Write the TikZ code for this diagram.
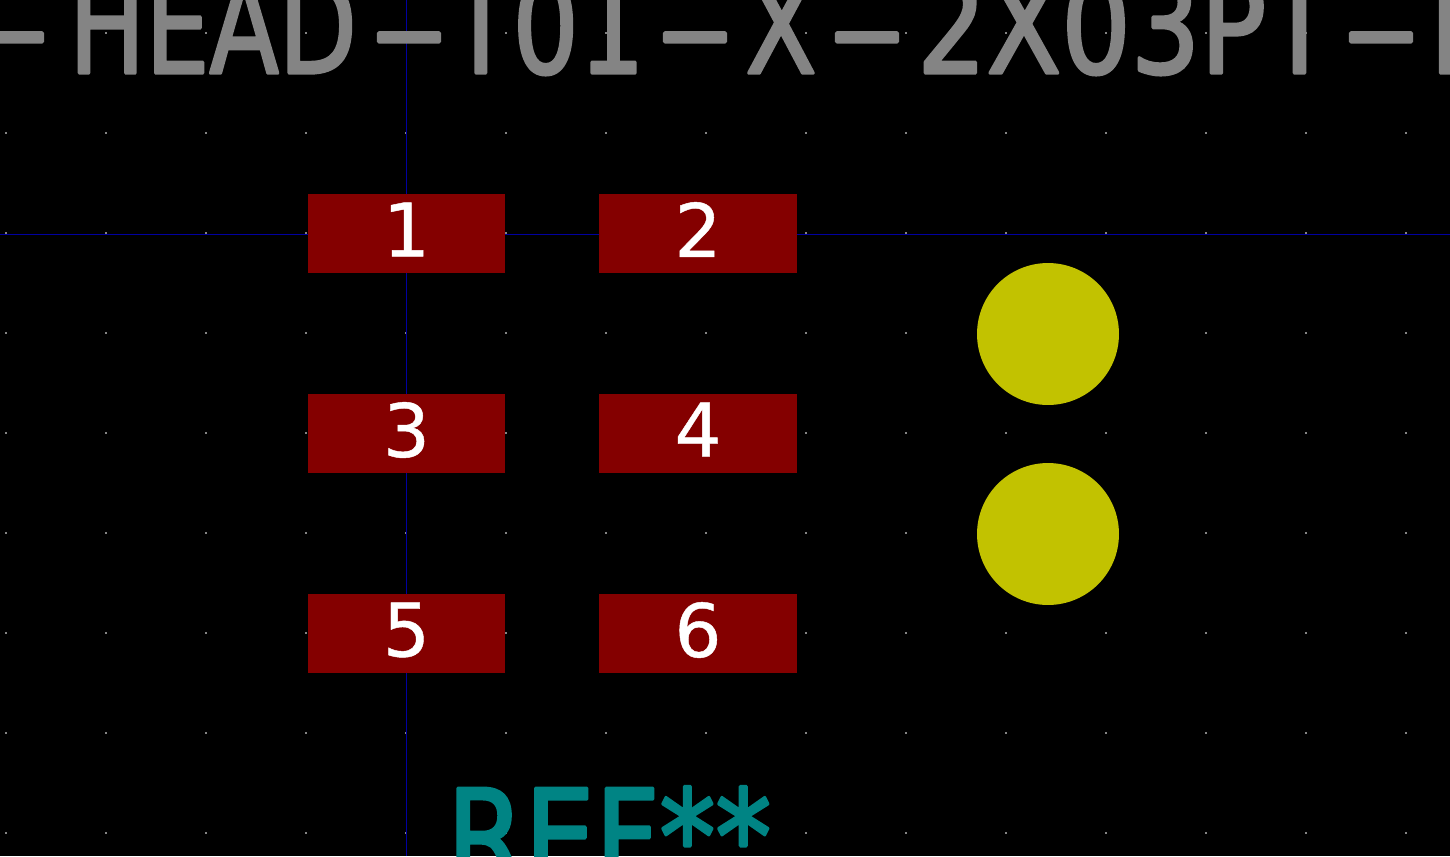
\documentclass[tikz,border=0pt]{standalone}
\usepackage{fontspec}
\usepackage{xcolor}
\setmainfont{DejaVu Sans}
\newfontfamily\padfont[FakeBold=0.6]{DejaVu Sans}
\newfontfamily\silkfont[FakeBold=2.6]{DejaVu Sans}
\definecolor{padred}{HTML}{840000}
\definecolor{holeyellow}{HTML}{C2C200}
\definecolor{refteal}{HTML}{008484}
\definecolor{valgrey}{HTML}{848484}
\definecolor{axisblue}{HTML}{0000A0}
\tikzset{
    padbox/.style={fill=padred,minimum width=3.96cm,minimum height=1.58cm,inner sep=0pt,text=white,text depth=0.16cm,font=\padfont\fontsize{42}{42}\selectfont},
    holedot/.style={circle,fill=holeyellow,minimum size=2.84cm,inner sep=0pt},
    silktext/.style={inner sep=0pt,anchor=base,line cap=round,line join=round,font=\silkfont\fontsize{74}{74}\selectfont,transform shape},
    silkdash/.style={silktext,text=valgrey,xscale=1.15}
}
\begin{document}
\begin{tikzpicture}[x=0.02cm,y=-0.02cm]
        % Background
        \fill[black] (0,0) rectangle (1450,856);
        \useasboundingbox (0,0) rectangle (1450,856);
        \clip (0,0) rectangle (1450,856);

        % Grid dots
        \foreach \gx in {0,...,14} {
            \foreach \gy in {0,...,8} {
                \fill[valgrey] (6+\gx*100-1,33+\gy*100-1) rectangle ++(2,2);
            }
        }

        % Axes
        \draw[axisblue,line width=0.024cm] (406.5,0) -- (406.5,856);
        \draw[axisblue,line width=0.024cm] (0,234.5) -- (1450,234.5);

        % Pads
        \foreach \n/\px/\py in {1/406.5/233.5, 2/698/233.5, 3/406.5/433.5, 4/698/433.5, 5/406.5/633.5, 6/698/633.5} {
            \node[padbox] (pad\n) at (\px,\py) {\n};
        }

        % Holes
        \node[holedot] (hole1) at (1048,334) {};
        \node[holedot] (hole2) at (1048,534) {};

        % Value text, cut off at the top edge
        \node[silkdash] (dash1) at (12,73) {–};
        \node[silktext,text=valgrey,xscale=0.78] (head) at (213,73) {HEAD};
        \node[silkdash] (dash2) at (409,73) {–};
        \node[silktext,text=valgrey,xscale=0.8] (part) at (547,73) {T01};
        \node[silkdash] (dash3) at (695,73) {–};
        \node[silktext,text=valgrey,xscale=0.8] (xmark) at (781,73) {X};
        \node[silkdash] (dash4) at (867,73) {–};
        \node[silktext,text=valgrey,xscale=0.84] (pitch) at (1125,73) {2X03PT};
        \node[silkdash] (dash5) at (1381,73) {–};
        \node[silktext,text=valgrey,xscale=0.8] (tail) at (1459,73) {L};

        % Reference text, cut off at the bottom edge
        \node[silktext,text=refteal,xscale=0.86] (refname) at (609,883) {REF**};
    \end{tikzpicture}
\end{document}
